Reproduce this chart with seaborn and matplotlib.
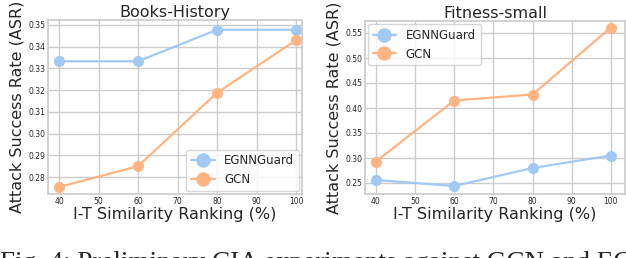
import matplotlib.pyplot as plt
import seaborn as sns
import pandas as pd

# data
ranking = [40, 60, 80, 100]
books_egnnguard = [0.3333, 0.3333, 0.3478, 0.3478]
books_gcn = [0.2754, 0.2850, 0.3188, 0.3430]
fitness_egnnguard = [0.256, 0.244, 0.280, 0.305]
fitness_gcn = [0.293, 0.415, 0.427, 0.561]

sns.set_theme(style='whitegrid', palette='pastel')
plt.rcParams['font.family'] = ['DejaVu Sans']

pal = sns.color_palette('pastel')

fig = plt.figure(figsize=(6.26, 2.58), dpi=100)
ax1 = fig.add_axes([48 / 626, 1 - 194 / 258, 254 / 626, 174 / 258])
ax2 = fig.add_axes([365 / 626, 1 - 194 / 258, 260 / 626, 173 / 258])


def draw(ax, egnn, gcn, title, xlim, ylim, yticks, loc):
    df = pd.DataFrame({'x': ranking * 2,
                       'y': egnn + gcn,
                       'model': ['EGNNGuard'] * 4 + ['GCN'] * 4})
    sns.lineplot(data=df, x='x', y='y', hue='model', ax=ax, marker='o',
                 markersize=8, linewidth=1.6, markeredgewidth=0,
                 palette=[pal[0], pal[1]])
    ax.set_title(title, fontsize=11.5, pad=2)
    ax.set_xlabel('I-T Similarity Ranking (%)', fontsize=11.5, labelpad=1)
    ax.set_ylabel('Attack Success Rate (ASR)', fontsize=11.5, labelpad=3)
    ax.set_xticks([40, 50, 60, 70, 80, 90, 100])
    ax.set_xlim(*xlim)
    ax.set_ylim(*ylim)
    ax.set_yticks(yticks)
    ax.set_yticklabels([f'{t:.2f}' for t in yticks])
    ax.tick_params(labelsize=5.5, pad=2, length=0)
    for s in ax.spines.values():
        s.set_edgecolor('#cccccc')
    ax.legend(loc=loc, fontsize=8.5, title=None, markerscale=1.3,
              borderaxespad=0.25)


draw(ax1, books_egnnguard, books_gcn, 'Books-History', (37.2, 101.5),
     (0.2722, 0.3523), [0.28, 0.29, 0.30, 0.31, 0.32, 0.33, 0.34, 0.35],
     'lower right')
draw(ax2, fitness_egnnguard, fitness_gcn, 'Fitness-small', (37.2, 103.6),
     (0.228, 0.574), [0.25, 0.30, 0.35, 0.40, 0.45, 0.50, 0.55],
     'upper left')

fig.text(0.0, -0.045, 'Fig. 4: Preliminary CIA experiments against GCN and EG',
         fontsize=19.5, family='Liberation Serif', va='baseline', ha='left')

fig.savefig('out.png', dpi=100)
